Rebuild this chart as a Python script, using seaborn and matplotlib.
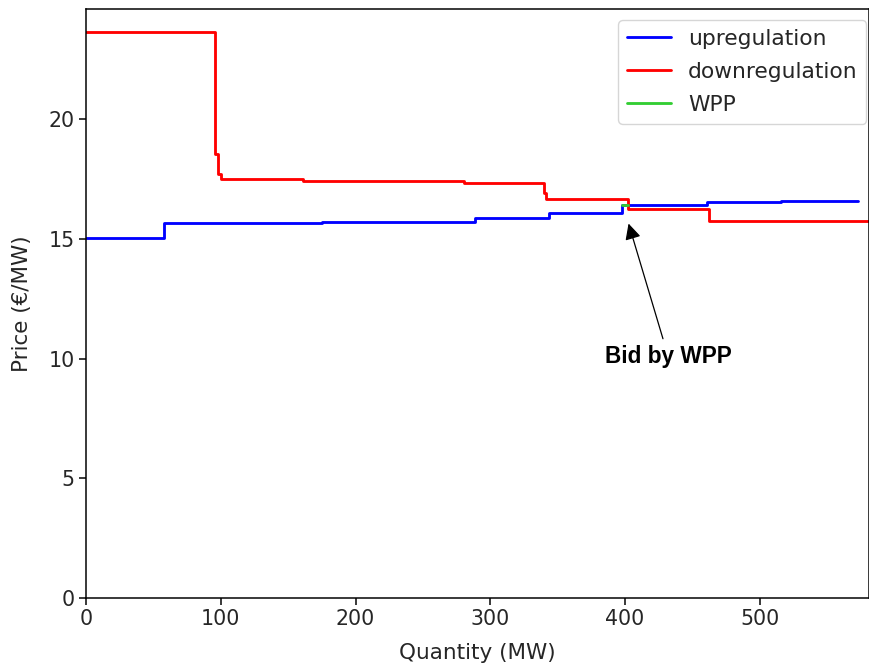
import matplotlib
matplotlib.use("Agg")
import matplotlib.pyplot as plt
import seaborn as sns
import pandas as pd

# Data
up_q = [0, 58, 174.8, 288.6, 343.5, 398, 461, 516, 572.7]
up_p = [15.04, 15.66, 15.72, 15.87, 16.10, 16.40, 16.52, 16.57, 16.57]
down_q = [0, 95.5, 98, 100.4, 161, 280.6, 339.8, 341.7, 402, 462, 590]
down_p = [23.65, 18.55, 17.72, 17.52, 17.40, 17.32, 16.90, 16.66, 16.26, 15.73, 15.73]
wpp_q = [398, 402.5]
wpp_p = [16.42, 16.42]

sns.set_style("ticks")
S = 1.36
TXT = "0.15"
plt.rcParams.update({
    "font.family": ["DejaVu Sans"],
    "font.size": 15.5,
    "axes.labelsize": 15.5,
    "xtick.labelsize": 14.8,
    "ytick.labelsize": 14.8,
    "legend.fontsize": 15.7,
    "axes.linewidth": 0.8 * S,
    "xtick.major.width": 0.8 * S,
    "ytick.major.width": 0.8 * S,
    "xtick.major.size": 3.5 * S,
    "ytick.major.size": 3.5 * S,
    "axes.edgecolor": "black",
    "xtick.color": "black",
    "ytick.color": "black",
    "xtick.labelcolor": TXT,
    "ytick.labelcolor": TXT,
    "text.color": TXT,
    "axes.labelcolor": TXT,
})

fig = plt.figure(figsize=(8.7, 6.71), dpi=100)
ax = fig.add_axes([0.0989, 0.1088, 0.8999, 0.8778])

lw = 1.5 * S
df_up = pd.DataFrame({"q": up_q, "p": up_p})
df_down = pd.DataFrame({"q": down_q, "p": down_p})
df_wpp = pd.DataFrame({"q": wpp_q, "p": wpp_p})

sns.lineplot(data=df_up, x="q", y="p", ax=ax, color="blue", lw=lw,
             drawstyle="steps-post", estimator=None, sort=False, label="upregulation")
sns.lineplot(data=df_down, x="q", y="p", ax=ax, color="red", lw=lw,
             drawstyle="steps-post", estimator=None, sort=False, label="downregulation")
sns.lineplot(data=df_wpp, x="q", y="p", ax=ax, color="limegreen", lw=lw,
             drawstyle="steps-post", estimator=None, sort=False, label="WPP")

ax.set_xlim(0, 581)
ax.set_ylim(0, 24.6)
ax.set_xticks([0, 100, 200, 300, 400, 500])
ax.set_yticks([0, 5, 10, 15, 20])
ax.set_xlabel("Quantity (MW)", labelpad=10)
ax.set_ylabel("Price (€/MW)", labelpad=12)

ax.annotate("Bid by WPP", xy=(402, 15.75), xytext=(432, 10.1),
            ha="center", va="center", fontsize=16.3, fontweight="bold",
            color="black",
            family=["Liberation Sans", "DejaVu Sans"],
            arrowprops=dict(arrowstyle="-|>", color="black", lw=0.9, mutation_scale=24))

leg = ax.legend(loc="upper right", frameon=True, handlelength=2.0,
                borderaxespad=0, bbox_to_anchor=(0.9968, 0.981),
                labelspacing=0.6)
leg.get_frame().set_edgecolor("#cccccc")

fig.savefig("out.png", dpi=100)
